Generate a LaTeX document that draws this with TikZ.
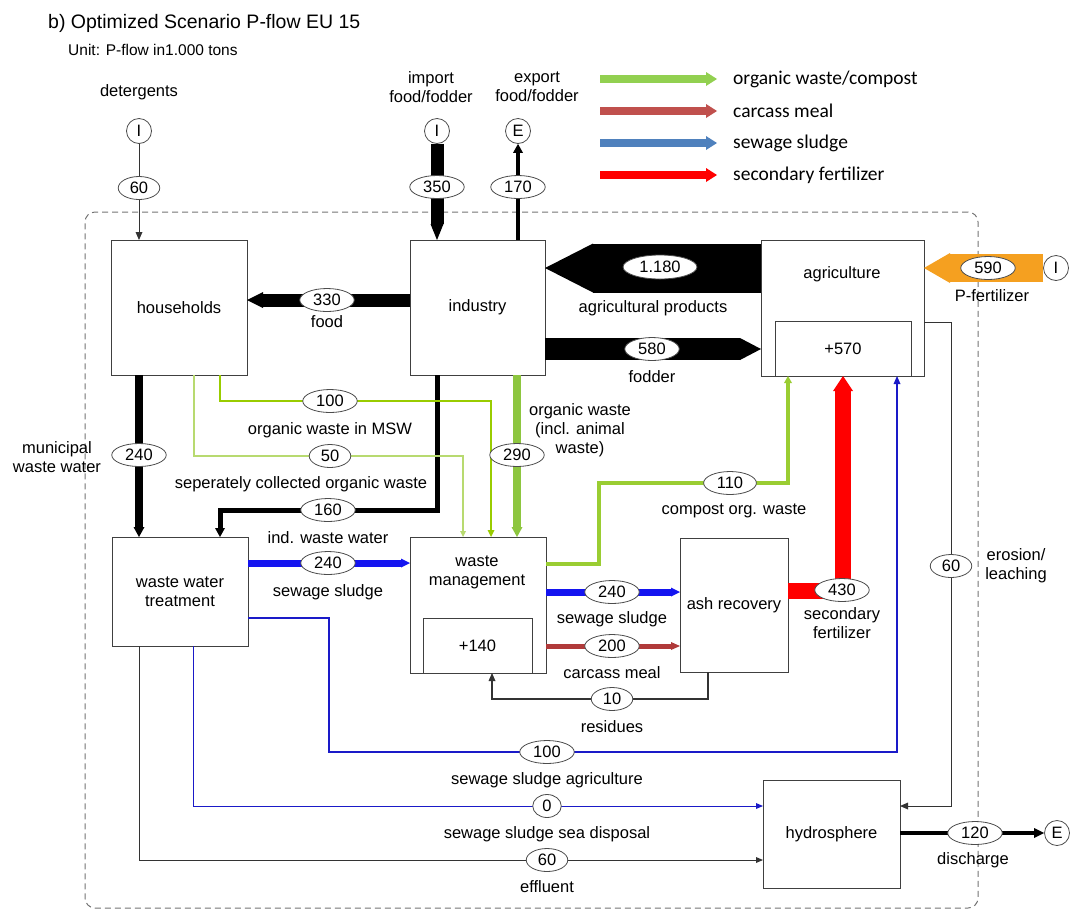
\documentclass[tikz,border=0pt]{standalone}
\usepackage{fontspec}
\setmainfont{Liberation Sans}
\newfontfamily\legfont{Carlito}
\usetikzlibrary{arrows.meta,shapes.geometric}
\newcommand\lblfont{\fontsize{16.5}{19}\selectfont}
\newcommand\ttlfont{\fontsize{19.5}{22}\selectfont}
\newcommand\lgfont{\legfont\fontsize{19.5}{22}\selectfont}
\definecolor{owgreen}{HTML}{92D050}
\definecolor{cmred}{HTML}{C0504D}
\definecolor{sslegend}{HTML}{4F81BD}
\definecolor{sfred}{HTML}{FF0000}
\definecolor{gr290}{HTML}{8DC63F}
\definecolor{grmsw}{HTML}{99CC00}
\definecolor{grsep}{HTML}{B8DA70}
\definecolor{grcomp}{HTML}{9ACD32}
\definecolor{blu}{HTML}{1414F0}
\definecolor{blu2}{HTML}{1A1AC8}
\definecolor{carc}{HTML}{B03A3A}
\definecolor{orangec}{HTML}{F5A020}
\definecolor{thinc}{HTML}{333333}
\begin{document}
\begin{tikzpicture}[x=1pt,y=-1pt,
  box/.style={draw=black!75, line width=0.9pt, inner sep=0pt, outer sep=0pt, align=center, font=\lblfont},
  lab/.style={font=\lblfont, inner sep=0pt, align=center},
  val/.style={ellipse, draw=black!70, line width=0.8pt, fill=white, inner xsep=5.5pt, inner ysep=0pt, minimum height=23pt, font=\lblfont},
  ioc/.style={circle, draw=black!70, line width=0.8pt, fill=white, minimum size=25pt, inner sep=0pt, font=\lblfont},
  flow/.style n args={3}{line width=#1, -{Triangle[length=#2,width=#3,line width=0pt]}},
  legarrow/.style={line width=8pt, -{Triangle[length=11pt,width=14pt,line width=0pt]}}
]
\useasboundingbox (0,0) rectangle (1070,914);

% title
\node[anchor=west, inner sep=0pt, font=\ttlfont] (title) at (48,23) {b) Optimized Scenario P-flow EU 15};
\node[anchor=west, inner sep=0pt, font=\fontsize{15.5}{18}\selectfont] (unit) at (68,50) {Unit: P-flow in1.000 tons};

% system boundary
\node[draw=black!55, dash pattern=on 6pt off 4pt, line width=1pt, rounded corners=10pt, minimum width=893pt, minimum height=696pt, inner sep=0pt, outer sep=0pt] (sysb) at (531.5,560) {};

% legend
\coordinate (lg1a) at (600,79); \coordinate (lg1b) at (717,79);
\coordinate (lg2a) at (600,111); \coordinate (lg2b) at (717,111);
\coordinate (lg3a) at (600,143); \coordinate (lg3b) at (717,143);
\coordinate (lg4a) at (600,175); \coordinate (lg4b) at (717,175);
\draw[legarrow, owgreen] (lg1a) -- (lg1b);
\draw[legarrow, cmred] (lg2a) -- (lg2b);
\draw[legarrow, sslegend] (lg3a) -- (lg3b);
\draw[legarrow, sfred] (lg4a) -- (lg4b);
\node[anchor=west, inner sep=0pt, font=\lgfont] (lgt1) at (733,79) {organic waste/compost};
\node[anchor=west, inner sep=0pt, font=\lgfont] (lgt2) at (733,111) {carcass meal};
\node[anchor=west, inner sep=0pt, font=\lgfont] (lgt3) at (733,143) {sewage sludge};
\node[anchor=west, inner sep=0pt, font=\lgfont] (lgt4) at (733,175) {secondary fertilizer};

% boxes
\node[box, minimum width=136pt, minimum height=135pt] (hh) at (179,307.5) {households};
\node[box, minimum width=135pt, minimum height=135pt] (ind) at (477.5,307.5) {industry};
\node[box, minimum width=163pt, minimum height=136pt] (agri) at (842.5,308) {};
\node[lab] (agrit) at (842,274) {agriculture};
\node[box, minimum width=136pt, minimum height=55pt] (agris) at (843,348.5) {+570};
\node[box, minimum width=136pt, minimum height=109pt] (wwt) at (180,591.5) {waste water\\treatment};
\node[box, minimum width=136pt, minimum height=136pt] (wm) at (478,605) {};
\node[lab] (wmt) at (477,572) {waste\\management};
\node[box, minimum width=109pt, minimum height=55pt] (wms) at (477.5,645.5) {+140};
\node[box, minimum width=108pt, minimum height=134pt] (ash) at (734,605) {ash recovery};
\node[box, minimum width=137pt, minimum height=108pt] (hyd) at (831.5,834) {hydrosphere};

% import / export circles
\node[ioc] (detI) at (139,131) {I};
\node[ioc] (impI) at (437,131) {I};
\node[ioc] (expE) at (518,131) {E};
\node[ioc] (ferI) at (1056,268) {I};
\node[ioc] (disE) at (1057,833) {E};

% flows
\draw[flow={1pt}{8pt}{7pt}, thinc] (detI) -- (hh.north -| detI);
\draw[flow={13pt}{16pt}{13pt}] (impI) -- (ind.north -| impI);
\draw[flow={4pt}{9pt}{10pt}] (ind.north -| expE) -- (expE);
\draw[flow={13pt}{16pt}{16pt}] (ind.west |- 0,300) -- (hh.east |- 0,300);
\draw[flow={49pt}{48pt}{49pt}] (agri.west |- 0,268) -- (ind.east |- 0,268);
\draw[flow={22pt}{21pt}{22pt}] (ind.east |- 0,349) -- (agri.west |- 0,349);
\draw[flow={28pt}{26pt}{30pt}, orangec] (ferI) -- (agri.east |- ferI);
\draw[flow={8pt}{10pt}{11pt}] (hh.south -| 139,0) -- (wwt.north -| 139,0);
\draw[flow={5pt}{9pt}{10pt}] (ind.south -| 437,0) |- (220,510) -- (wwt.north -| 220,0);
\draw[flow={8pt}{10pt}{11pt}, gr290] (ind.south -| 517,0) -- (wm.north -| 517,0);
\draw[flow={2pt}{7pt}{7pt}, grmsw] (hh.south -| 220,0) |- (491,401) -- (wm.north -| 491,0);
\draw[flow={1.2pt}{6pt}{6pt}, grsep] (hh.south -| 194,0) |- (463,456) -- (wm.north -| 463,0);
\draw[flow={7pt}{9pt}{9pt}, blu] (wwt.east |- 0,563) -- (wm.west |- 0,563);
\draw[flow={3.5pt}{7pt}{8pt}, grcomp] (wm.east |- 0,564) -| (599,483) -| (agri.south -| 788,0);
\draw[flow={7pt}{9pt}{9pt}, blu] (wm.east |- 0,592) -- (ash.west |- 0,592);
\draw[flow={5pt}{9pt}{8pt}, carc] (wm.east |- 0,646) -- (ash.west |- 0,646);
\draw[flow={1.3pt}{8pt}{7pt}, thinc] (ash.south -| 708,0) |- (492,699) -- (wm.south -| 492,0);
\draw[flow={16pt}{15pt}{20pt}, sfred] (ash.east |- 0,591) -| (agri.south -| 843,0);
\draw[flow={2.5pt}{8pt}{7pt}, blu2] (wwt.east |- 0,618) -| (329,752) -| (agri.south -| 897,0);
\draw[flow={1pt}{7pt}{6pt}, blu2] (wwt.south -| 193,0) |- (hyd.west |- 0,806);
\draw[flow={1pt}{7pt}{6pt}, thinc] (wwt.south -| 139,0) |- (hyd.west |- 0,860);
\draw[flow={1pt}{8pt}{7pt}, thinc] (agri.east |- 0,322) -| (951,806) -- (hyd.east |- 0,806);
\draw[flow={4pt}{10pt}{10pt}] (hyd.east |- 0,833) -- (disE);

% values
\node[val] (v60d) at (139,188) {60};
\node[val] (v350) at (437,187) {350};
\node[val] (v170) at (518,187) {170};
\node[val] (v330) at (327,300) {330};
\node[val, minimum width=68pt, minimum height=24pt] (v1180) at (660,267) {1.180};
\node[val] (v580) at (652,349) {580};
\node[val] (v590) at (988,268) {590};
\node[val] (v240m) at (139,455) {240};
\node[val] (v160) at (328,510) {160};
\node[val] (v100m) at (330,401) {100};
\node[val] (v50) at (330,456) {50};
\node[val] (v290) at (517,455) {290};
\node[val] (v240s) at (328,563) {240};
\node[val] (v110) at (730,483) {110};
\node[val] (v240a) at (612,592) {240};
\node[val] (v200) at (612,646) {200};
\node[val] (v10) at (612,699) {10};
\node[val] (v430) at (842,590) {430};
\node[val] (v60e) at (951,566) {60};
\node[val] (v100a) at (547,752) {100};
\node[val] (v0) at (547,806) {0};
\node[val] (v60f) at (547,860) {60};
\node[val] (v120) at (975,833) {120};

% labels
\node[lab] (ldet) at (139,92) {detergents};
\node[lab] (limp) at (431,87) {import\\food/fodder};
\node[lab] (lexp) at (537,87) {export\\food/fodder};
\node[lab] (lfood) at (327,322) {food};
\node[lab] (lagp) at (653,308) {agricultural products};
\node[lab] (lfod) at (652,377) {fodder};
\node[lab] (lpf) at (992,296) {P-fertilizer};
\node[lab] (lmww) at (57,457) {municipal\\waste water};
\node[lab] (lmsw) at (330,430) {organic waste in MSW};
\node[lab] (lsep) at (301,484) {seperately collected organic waste};
\node[lab] (liww) at (328,538) {ind. waste water};
\node[lab] (lorg) at (580,430) {organic waste\\(incl. animal\\waste)};
\node[lab] (lss1) at (328,592) {sewage sludge};
\node[lab] (lcomp) at (734,511) {compost org. waste};
\node[lab] (lss2) at (612,619) {sewage sludge};
\node[lab] (lcm) at (612,673) {carcass meal};
\node[lab] (lres) at (612,727) {residues};
\node[lab] (lsf) at (842,623) {secondary\\fertilizer};
\node[lab] (lero) at (1016,566) {erosion/\\leaching};
\node[lab] (lssa) at (547,780) {sewage sludge agriculture};
\node[lab] (lsea) at (547,834) {sewage sludge sea disposal};
\node[lab] (leff) at (547,887) {effluent};
\node[lab] (ldis) at (973,860) {discharge};
\end{tikzpicture}
\end{document}
